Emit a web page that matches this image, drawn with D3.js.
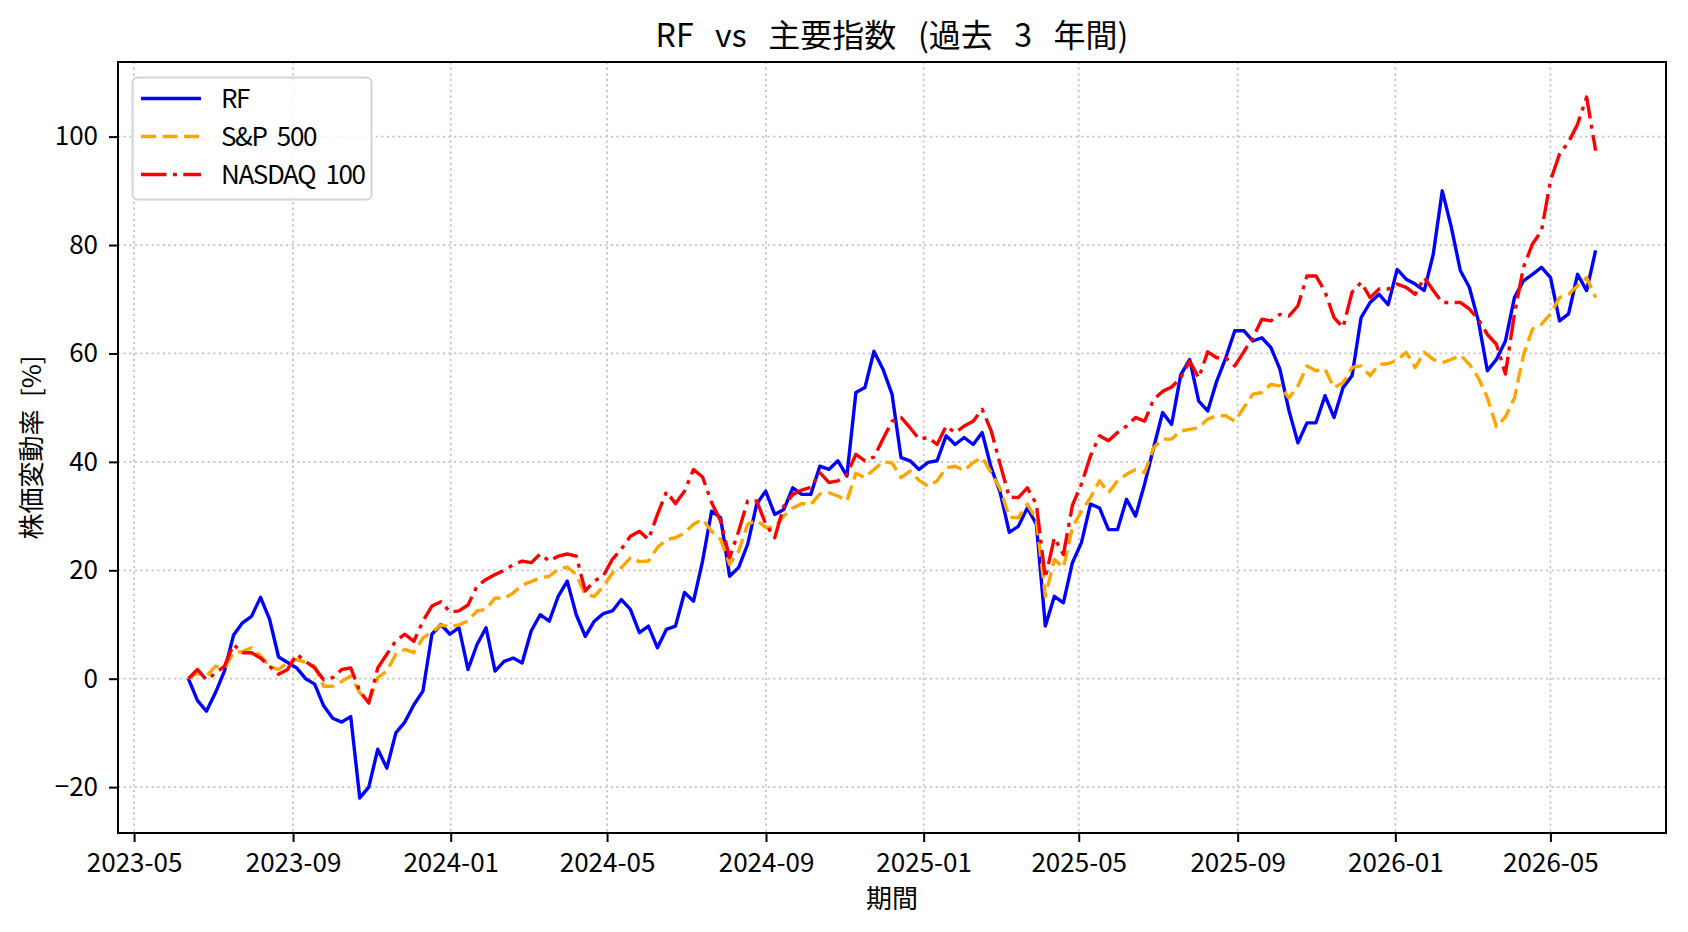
<!DOCTYPE html>
<html>
<head>
<meta charset="utf-8">
<script src="https://cdn.jsdelivr.net/npm/d3@7"></script>
<style>
  html, body { margin: 0; padding: 0; background: #fff; }
  svg text { font-family: "Noto Sans CJK JP", "Noto Sans", sans-serif; fill: #000; }
</style>
</head>
<body>
<div id="chart"></div>
<script>
'use strict';

// weekly closes, % change since first day
var startDate = '2023-06-12';
var endDate = '2026-06-05';

var rfValues = [
  0, -4, -6, -2.6, 1.4, 8, 10.3, 11.5, 15, 11,
  4, 3, 2, 0, -1, -5, -7.3, -8, -7, -22,
  -20, -13, -16.5, -10, -8, -4.8, -2.3, 8.2, 10, 8.2,
  9.4, 1.7, 6.3, 9.4, 1.4, 3.2, 3.8, 2.9, 8.8, 11.8,
  10.6, 15.2, 18, 11.8, 7.8, 10.6, 12, 12.5, 14.6, 12.8,
  8.5, 9.7, 5.7, 9.1, 9.7, 15.9, 14.3, 21.7, 30.9, 29.7,
  18.9, 20.5, 24.8, 32.2, 34.6, 30.3, 31.2, 35.2, 34, 34,
  39.2, 38.6, 40.2, 37.4, 52.8, 53.7, 60.4, 57.1, 52.5, 40.8,
  40.2, 38.6, 39.9, 40.2, 44.8, 43.2, 44.5, 43.2, 45.4, 38.9,
  34.3, 27, 28.1, 31.5, 28.5, 9.7, 15.2, 14, 21.4, 25.1,
  32.2, 31.5, 27.5, 27.5, 33.1, 30, 35.9, 42.6, 49.1, 46.9,
  56, 58.9, 51.2, 49.4, 54.9, 59.2, 64.2, 64.2, 62.3, 62.9,
  61.1, 57.1, 49.5, 43.5, 47.2, 47.2, 52.2, 48.2, 53.7, 55.9,
  66.6, 69.4, 70.9, 69, 75.5, 73.7, 72.8, 71.6, 78.3, 90,
  83.3, 75.3, 72.2, 66, 56.8, 58.9, 62.3, 70.3, 73.4, 74.6,
  75.9, 74, 66, 67.3, 74.6, 71.6, 79
];

var spValues = [
  0, 1, 0.5, 2.3, 2, 4.8, 5, 5.7, 4.2, 2.3,
  1.7, 3, 3.5, 3, 2.3, -1.4, -1.4, -0.5, 0.5, -2.6,
  -4.2, 0.2, 1.4, 4.5, 5.4, 4.8, 7.5, 8.6, 9.9, 9.6,
  9.9, 10.7, 12.5, 12.8, 14.9, 14.8, 15.8, 17.3, 17.9, 18.6,
  18.9, 20.2, 20.6, 19.2, 15.5, 15.2, 17, 19.5, 20.5, 22.3,
  21.6, 21.7, 24.2, 25.7, 26, 26.9, 28.5, 29.4, 27.2, 25.7,
  21.1, 23.5, 28.5, 29.2, 27.9, 27.9, 30, 31.5, 32.3, 32.1,
  34.1, 34.3, 33.7, 32.8, 37.9, 37.1, 38.6, 40, 39.8, 37.1,
  38.3, 36.6, 35.5, 36.5, 38.9, 39.2, 38.4, 39.9, 40.8, 38,
  35, 29.8, 29.7, 32.2, 29.4, 15.2, 22, 20.5, 27.9, 30.9,
  33.4, 36.5, 34.3, 36.5, 37.7, 38.6, 38, 42.6, 44.2, 44.2,
  45.7, 46, 46.3, 47.9, 48.5, 48.5, 47.5, 50, 52.5, 52.8,
  54.3, 54, 51.8, 54, 57.7, 56.8, 57.1, 53.7, 54.6, 57.4,
  57.7, 55.9, 58, 58.1, 58.8, 60.2, 57.4, 60.2, 58.9, 58.3,
  58.9, 59.7, 58, 55.5, 51.8, 46.5, 48.3, 51.8, 59.7, 64.5,
  65.4, 67.3, 70.3, 70.9, 72.5, 74, 70.3
];

var ndxValues = [
  0, 1.7, -0.2, 1, 2.3, 6.3, 4.8, 4.8, 3.8, 2.3,
  0.8, 1.7, 4.5, 3.2, 2, -0.2, 0.2, 1.7, 2, -2.3,
  -4.5, 2, 4.5, 7, 8.2, 6.9, 10.6, 13.4, 14.2, 12.3,
  12.5, 13.6, 17.1, 18.3, 19.2, 20, 21, 21.7, 21.4, 23,
  21.7, 22.6, 23, 22.6, 16.2, 18, 19, 22, 23.9, 26.3,
  27.2, 25.7, 30.3, 34.5, 32.3, 34.6, 38.6, 37.2, 32.5, 29.1,
  22.3, 27.2, 32.8, 32.8, 28.5, 26, 31.8, 34, 34.8, 35.3,
  38, 36.2, 36.5, 37.7, 41.4, 40.2, 40.9, 44.2, 47.5, 48.2,
  46.3, 44.2, 44.5, 43.2, 46.6, 45.4, 46.6, 47.5, 49.7, 45.7,
  39.5, 33.5, 33.4, 35.2, 32.2, 18.6, 26, 22.9, 32, 35.9,
  41.1, 44.8, 43.9, 45.4, 46.6, 48.2, 47.5, 51.5, 53, 53.8,
  55.5, 58.6, 55.5, 60.3, 59.2, 59.2, 57.7, 60.3, 62.9, 66.3,
  66, 67.2, 66.9, 68.8, 74.3, 74.3, 71.4, 66.6, 64.8, 71.3,
  73.1, 70.3, 71.9, 71.9, 72.8, 72.2, 70.9, 74, 71.6, 69.4,
  69.4, 69.4, 68.2, 66.3, 63.5, 61.7, 56.2, 67.3, 75.9, 80.2,
  82.6, 91.9, 96.8, 99, 102.3, 107.3, 97.4
];

var seriesNames = ['RF', 'S&P 500', 'NASDAQ 100'];
var yTicks = [-20, 0, 20, 40, 60, 80, 100];

var titleText = 'RF vs 主要指数 (過去 3 年間)';
var xLabelText = '期間';
var yLabelText = '株価変動率 [%]';

draw();

function draw() {

  var width = 1688,
      height = 932;

  var plot = { left: 118, right: 1666, top: 62, bottom: 833 };

  var colors = ['#0000ff', '#ffa500', '#ff0000'];
  var dashes = [null, '15,6.5', '25.5,6.4,4,6.4'];

  var parse = d3.timeParse('%Y-%m-%d');
  var t0 = parse(startDate),
      t1 = parse(endDate);

  var n = rfValues.length;
  var dates = d3.range(n).map(function(i) {
    return new Date(+t0 + (t1 - t0) * i / (n - 1));
  });

  var series = [rfValues, spValues, ndxValues].map(function(vals, i) {
    return {
      name: seriesNames[i],
      color: colors[i],
      dash: dashes[i],
      points: vals.map(function(v, j) { return { date: dates[j], value: v }; })
    };
  });

  // matplotlib-ish 5% margins
  var span = t1 - t0;
  var x = d3.scaleTime()
      .domain([new Date(+t0 - span * 0.05), new Date(+t1 + span * 0.05)])
      .range([plot.left, plot.right]);

  var all = rfValues.concat(spValues, ndxValues);
  var ext = d3.extent(all);
  var pad = (ext[1] - ext[0]) * 0.05;
  var y = d3.scaleLinear()
      .domain([ext[0] - pad, ext[1] + pad])
      .range([plot.bottom, plot.top]);

  var svg = d3.select('#chart').append('svg')
      .attr('width', width)
      .attr('height', height)
      .style('display', 'block')
      .style('background', '#fff');

  var xTicks = x.ticks(d3.timeMonth.every(4));

  // grid
  var grid = svg.append('g')
      .attr('stroke', '#c4c4c4')
      .attr('stroke-width', 1.8)
      .attr('stroke-dasharray', '2.2,3.4');

  grid.selectAll('.gx')
    .data(xTicks)
    .enter().append('line')
      .attr('x1', function(d) { return x(d); })
      .attr('x2', function(d) { return x(d); })
      .attr('y1', plot.top)
      .attr('y2', plot.bottom);

  grid.selectAll('.gy')
    .data(yTicks)
    .enter().append('line')
      .attr('x1', plot.left)
      .attr('x2', plot.right)
      .attr('y1', function(d) { return y(d); })
      .attr('y2', function(d) { return y(d); });

  // lines
  var line = d3.line()
      .x(function(d) { return x(d.date); })
      .y(function(d) { return y(d.value); });

  svg.append('g').selectAll('path')
    .data(series)
    .enter().append('path')
      .attr('d', function(d) { return line(d.points); })
      .attr('fill', 'none')
      .attr('stroke', function(d) { return d.color; })
      .attr('stroke-width', 3.4)
      .attr('stroke-linejoin', 'round')
      .attr('stroke-dasharray', function(d) { return d.dash; });

  // axes
  var xAxis = d3.axisBottom(x)
      .tickValues(xTicks)
      .tickFormat(d3.timeFormat('%Y-%m'))
      .tickSize(9)
      .tickPadding(12);

  var yAxis = d3.axisLeft(y)
      .tickValues(yTicks)
      .tickFormat(function(d) { return d < 0 ? '\u2212' + Math.abs(d) : d; })
      .tickSize(9)
      .tickPadding(11);

  var gx = svg.append('g')
      .attr('transform', 'translate(0,' + plot.bottom + ')')
      .call(xAxis);

  var gy = svg.append('g')
      .attr('transform', 'translate(' + plot.left + ',0)')
      .call(yAxis);

  [gx, gy].forEach(function(g) {
    g.select('.domain').remove();
    g.selectAll('.tick line').attr('stroke', '#000').attr('stroke-width', 2);
    g.selectAll('.tick text')
      .attr('fill', '#000')
      .style('font-size', '26px')
      .style('font-family', '"Noto Sans CJK JP", sans-serif');
  });

  // spines
  svg.append('rect')
      .attr('x', plot.left)
      .attr('y', plot.top)
      .attr('width', plot.right - plot.left)
      .attr('height', plot.bottom - plot.top)
      .attr('fill', 'none')
      .attr('stroke', '#000')
      .attr('stroke-width', 2);

  // title + labels
  svg.append('text')
      .attr('x', (plot.left + plot.right) / 2)
      .attr('y', 47)
      .attr('text-anchor', 'middle')
      .style('font-size', '32px')
      .style('word-spacing', '0.45em')
      .text(titleText);

  svg.append('text')
      .attr('x', (plot.left + plot.right) / 2)
      .attr('y', 908)
      .attr('text-anchor', 'middle')
      .style('font-size', '26px')
      .text(xLabelText);

  svg.append('text')
      .attr('transform', 'translate(41,' + ((plot.top + plot.bottom) / 2) + ') rotate(-90)')
      .attr('text-anchor', 'middle')
      .style('font-size', '26px')
      .style('word-spacing', '0.25em')
      .text(yLabelText);

  // legend
  var legend = svg.append('g');

  legend.append('rect')
      .attr('x', 132.5)
      .attr('y', 77.5)
      .attr('width', 239)
      .attr('height', 122)
      .attr('rx', 5)
      .attr('fill', 'rgba(255,255,255,0.8)')
      .attr('stroke', '#d4d4d4')
      .attr('stroke-width', 2);

  var rows = legend.selectAll('.row')
    .data(series)
    .enter().append('g')
      .attr('transform', function(d, i) { return 'translate(0,' + (98.5 + i * 38) + ')'; });

  rows.append('line')
      .attr('x1', 141)
      .attr('x2', 201)
      .attr('stroke', function(d) { return d.color; })
      .attr('stroke-width', 3.4)
      .attr('stroke-dasharray', function(d) { return d.dash; });

  rows.append('text')
      .attr('x', 221)
      .attr('dy', '0.36em')
      .style('font-size', '26px')
      .style('letter-spacing', '-1.4px')
      .style('word-spacing', '6px')
      .text(function(d) { return d.name; });
}
</script>
</body>
</html>
